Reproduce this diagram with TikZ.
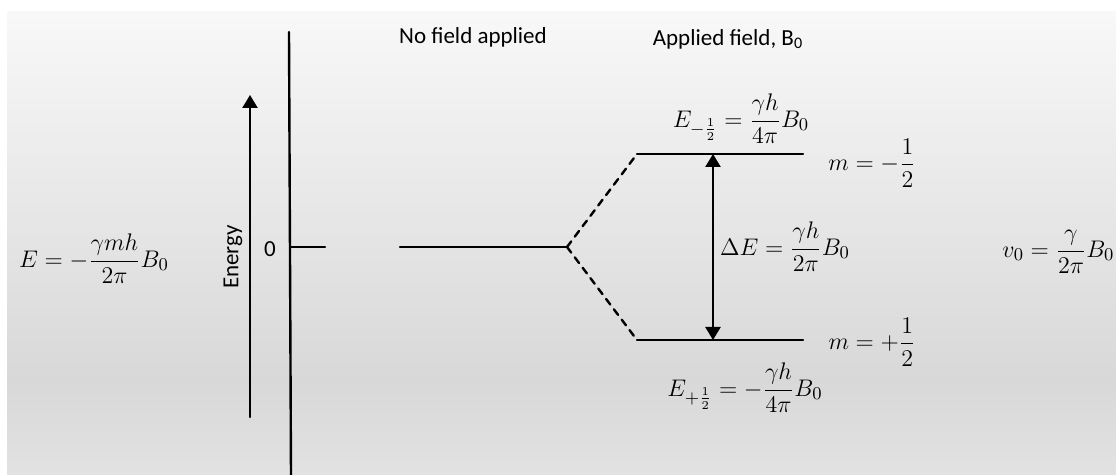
\documentclass[tikz,border=0pt]{standalone}
\usepackage{amsmath}
\usepackage{fontspec}
\setmainfont{Carlito}
\usetikzlibrary{arrows.meta}
\definecolor{bgtop}{RGB}{248,248,248}
\definecolor{bgmid}{RGB}{216,216,216}
\definecolor{bgbot}{RGB}{226,226,226}
\begin{document}
\begin{tikzpicture}[x=0.5pt, y=-0.5pt, line join=round, line cap=round, >={Triangle[length=6.5pt,width=7.5pt]},
	level/.style={line width=1.2pt},
	eq/.style={inner sep=0pt, font=\fontsize{12.5}{15}\selectfont},
	txt/.style={inner sep=0pt, font=\fontsize{11.5}{14}\selectfont}]
	\clip (0,0) rectangle (1116,475);
	\fill[white] (0,0) rectangle (1116,475);
	\shade[top color=bgtop, bottom color=bgmid] (7,12) rectangle (1116,380);
	\shade[top color=bgmid, bottom color=bgbot] (7,379) rectangle (1116,475);
	\coordinate (axTop) at (289,32);
	\coordinate (axBot) at (291,476);
	\coordinate (axZero) at (290,247);
	\coordinate (tick) at (325,247);
	\coordinate (enBot) at (250,417);
	\coordinate (enTop) at (250,95);
	\coordinate (zeroL) at (400,247);
	\coordinate (split) at (567,247);
	\coordinate (upL) at (637,154);
	\coordinate (upR) at (803,154);
	\coordinate (lowL) at (637,340);
	\coordinate (lowR) at (803,340);
	\coordinate (dTop) at (713,154);
	\coordinate (dBot) at (713,340);
	\draw[level] (axTop) -- (axBot);
	\draw[level] (axZero) -- (tick);
	\draw[level,->] (enBot) -- (enTop);
	\draw[level] (zeroL) -- (split);
	\draw[level, dashed, dash pattern=on 3.5pt off 3pt] (split) -- (upL);
	\draw[level, dashed, dash pattern=on 3.5pt off 3pt] (split) -- (lowL);
	\draw[level] (upL) -- (upR);
	\draw[level] (lowL) -- (lowR);
	\draw[level,<->] (dTop) -- (dBot);
	\node[txt, rotate=90] (energy) at (233,257) {Energy};
	\node[txt] (zero) at (270,249) {0};
	\node[txt] (nofield) at (473,37) {No field applied};
	\node[txt] (field) at (728,39) {Applied field, B\textsubscript{0}};
	\node[eq] (Eeq) at (94,259) {$E=-\dfrac{\gamma m h}{2\pi}B_0$};
	\node[eq] (Eup) at (741,119) {$E_{-\frac{1}{2}}=\dfrac{\gamma h}{4\pi}B_0$};
	\node[eq] (mup) at (872,163) {$m=-\dfrac{1}{2}$};
	\node[eq] (dE) at (785,247) {$\Delta E=\dfrac{\gamma h}{2\pi}B_0$};
	\node[eq] (mlow) at (872,342) {$m=+\dfrac{1}{2}$};
	\node[eq] (Elow) at (745,388) {$E_{+\frac{1}{2}}=-\dfrac{\gamma h}{4\pi}B_0$};
	\node[eq, anchor=west] (nu) at (1002,252) {$v_0=\dfrac{\gamma}{2\pi}B_0$};
\end{tikzpicture}
\end{document}
